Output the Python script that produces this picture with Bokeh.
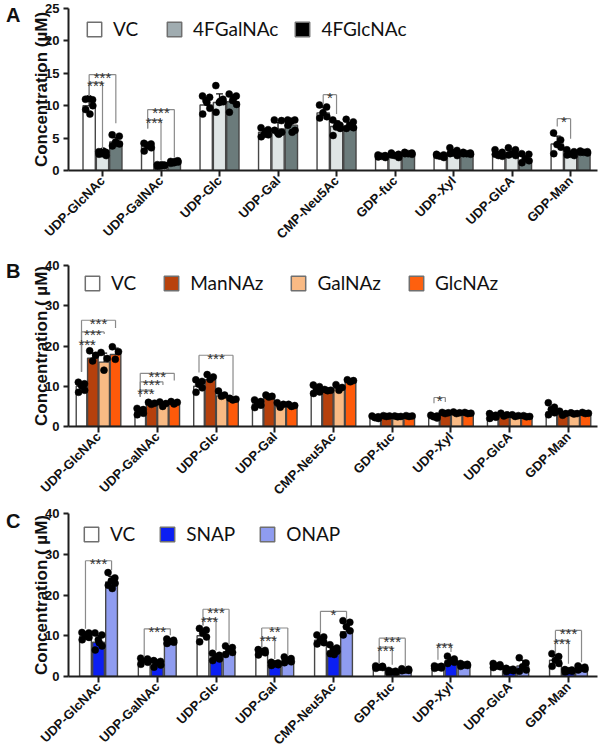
import math
import numpy as np
from bokeh.plotting import figure
from bokeh.models import Range1d, FixedTicker, Legend, LegendItem, LinearAxis
from bokeh.layouts import column
from bokeh.embed import file_html
from bokeh.resources import INLINE
from bokeh.core.properties import value

categories = ["UDP-GlcNAc", "UDP-GalNAc", "UDP-Glc", "UDP-Gal", "CMP-Neu5Ac",
              "GDP-fuc", "UDP-Xyl", "UDP-GlcA", "GDP-Man"]

# ---------------- Panel A ----------------
a_names = ["VC", "4FGalNAc", "4FGlcNAc"]
a_vc_mean = [10.0, 3.8, 10.1, 5.9, 8.9, 2.2, 2.3, 2.5, 4.1]
a_galnac_mean = [2.7, 0.8, 10.5, 6.4, 6.8, 2.4, 2.8, 2.8, 2.6]
a_glcnac_mean = [4.4, 1.3, 10.6, 7.0, 6.8, 2.6, 2.6, 1.6, 2.8]
a_vc_pts = [[11.0, 10.9, 11.1, 10.0, 9.4, 8.7], [4.2, 4.1, 3.9, 3.5, 3.0, 3.8],
            [11.5, 11.3, 10.8, 9.6, 8.7, 10.5], [6.6, 6.3, 5.6, 5.5, 5.2, 6.0],
            [10.1, 9.8, 8.9, 8.3, 8.1], [2.4, 2.3, 2.2, 2.0, 2.1],
            [2.5, 2.4, 2.2, 2.0, 2.3], [3.2, 2.8, 2.3, 2.2, 2.5], [5.8, 4.7, 4.0, 3.6, 2.6]]
a_galnac_pts = [[2.9, 2.8, 2.6, 2.3, 2.5, 3.0], [0.9, 0.8, 0.7, 0.8, 0.6, 0.9],
                [13.1, 11.0, 10.5, 10.6, 9.0, 10.7], [7.8, 7.7, 5.8, 5.9, 6.2, 5.6],
                [7.8, 7.0, 6.7, 6.5, 5.4, 7.2], [2.7, 2.5, 2.3, 2.0, 2.4],
                [3.5, 3.1, 2.7, 2.3, 2.6], [3.5, 3.2, 2.6, 2.3, 2.4], [3.2, 2.9, 2.5, 2.3, 2.4]]
a_glcnac_pts = [[5.5, 5.3, 4.4, 4.1, 3.8, 4.2], [1.4, 1.5, 1.2, 1.3, 1.1, 1.4],
                [11.8, 11.5, 10.8, 10.2, 9.0, 11.2], [7.8, 7.8, 7.6, 6.2, 7.0, 5.9],
                [7.9, 7.5, 7.0, 6.6, 6.5, 6.8], [2.8, 2.7, 2.6, 2.5, 2.6],
                [2.8, 2.7, 2.6, 2.5, 2.6], [2.6, 2.5, 1.8, 1.5, 1.2], [3.0, 2.9, 2.8, 2.7, 2.8]]
a_bar_colors = ["#ffffff", "#dfe5e5", "#6b7b7b"]
a_legend_colors = ["#ffffff", "#a0acb0", "#000000"]
a_yticks = [0, 5, 10, 15, 20, 25]
# (category, series i, series j, bracket level, left leg end, right leg end, label)
a_sig = [(0, 0, 1, 13.6, 11.5, 3.3, "***"), (0, 0, 2, 14.8, 11.5, 7.3, "***"),
         (1, 0, 1, 7.8, 6.5, 1.6, "***"), (1, 0, 2, 9.4, 6.5, 2.0, "***"),
         (4, 0, 1, 11.7, 10.2, 8.7, "*"), (8, 0, 1, 8.0, 6.8, 4.9, "*")]

# ---------------- Panel B ----------------
b_names = ["VC", "ManNAz", "GalNAz", "GlcNAz"]
b_vc_mean = [10.0, 3.7, 10.0, 5.6, 8.8, 2.0, 2.0, 2.2, 3.6]
b_mannaz_mean = [17.0, 5.6, 11.6, 7.2, 9.0, 2.4, 3.0, 2.4, 2.9]
b_galnaz_mean = [16.0, 5.5, 7.6, 5.0, 9.5, 2.3, 3.1, 2.4, 3.0]
b_glcnaz_mean = [17.9, 5.8, 6.6, 5.0, 11.3, 2.4, 3.1, 2.2, 3.0]
b_vc_pts = [[11.0, 10.6, 10.3, 9.0, 8.5, 10.0], [4.5, 4.2, 3.9, 3.3, 2.9],
            [11.6, 11.2, 10.5, 9.6, 8.5], [6.6, 6.2, 5.8, 5.3, 4.7],
            [10.3, 9.9, 9.4, 8.6, 8.2], [2.6, 2.4, 2.2, 2.0],
            [2.8, 2.6, 2.4, 2.1], [3.2, 2.8, 2.6, 2.3, 2.0], [5.9, 4.8, 4.2, 3.4, 2.9]]
b_mannaz_pts = [[18.8, 17.7, 16.3], [6.0, 5.8, 5.5], [12.9, 12.3, 11.7], [7.8, 7.5, 7.3],
                [9.2, 9.0, 8.9], [2.7, 2.6, 2.5], [3.5, 3.4, 3.2], [3.3, 2.9, 2.6], [3.8, 3.2, 2.8]]
b_galnaz_pts = [[18.4, 16.9, 14.0], [6.1, 5.7, 5.0], [8.8, 7.8, 7.5], [5.9, 5.5, 4.8],
                [10.4, 9.7, 9.0], [2.6, 2.5, 2.4], [3.6, 3.4, 3.2], [2.9, 2.7, 2.5], [3.4, 3.2, 3.1]]
b_glcnaz_pts = [[19.8, 18.6, 16.7], [6.2, 6.0, 5.6], [7.0, 6.8, 6.6], [5.5, 5.2, 5.0],
                [11.6, 11.4, 11.1], [2.7, 2.6, 2.5], [3.5, 3.3, 3.2], [2.7, 2.5, 2.4], [3.5, 3.3, 3.2]]
b_bar_colors = ["#ffffff", "#b5400c", "#f9ba84", "#fe5a0a"]
b_legend_colors = ["#ffffff", "#b8420c", "#f9ba84", "#fe600e"]
b_yticks = [0, 10, 20, 30, 40]
b_sig = [(0, 0, 1, 21.0, 13.6, 20.4, "***"), (0, 0, 2, 23.5, 13.6, 23.0, "***"),
         (0, 0, 3, 26.4, 13.6, 24.5, "***"),
         (1, 0, 1, 9.05, 7.4, 8.5, "***"), (1, 0, 2, 11.1, 7.4, 10.3, "***"),
         (1, 0, 3, 13.2, 7.4, 11.4, "***"),
         (2, 0, 3, 17.7, 13.4, 7.65, "***"), (6, 0, 1, 7.2, 5.8, 6.1, "*")]

# ---------------- Panel C ----------------
c_names = ["VC", "SNAP", "ONAP"]
c_vc_mean = [9.8, 3.8, 10.0, 6.0, 8.9, 2.3, 2.3, 2.6, 4.0]
c_snap_mean = [8.4, 2.8, 4.5, 3.0, 6.3, 1.1, 3.9, 1.6, 1.4]
c_onap_mean = [23.2, 8.5, 6.0, 3.8, 11.0, 1.6, 2.8, 2.6, 2.0]
c_vc_pts = [[10.8, 10.7, 10.2, 9.6, 9.0, 9.9], [4.5, 4.3, 4.1, 3.5, 3.0],
            [11.8, 11.4, 10.6, 9.7, 8.5], [6.6, 6.4, 6.1, 5.8, 5.3],
            [10.2, 9.7, 8.9, 8.3, 8.0], [2.6, 2.5, 2.3, 2.2, 2.0],
            [2.6, 2.5, 2.3, 2.1, 2.0], [3.2, 2.9, 2.6, 2.4, 2.2], [5.6, 4.9, 4.0, 3.2, 2.5]]
c_snap_pts = [[10.7, 10.2, 9.0, 7.5, 6.5, 8.3], [3.9, 3.7, 3.4, 2.8, 2.3],
              [5.7, 5.2, 4.8, 4.3, 3.9], [3.5, 3.3, 3.1, 2.9, 2.7],
              [7.8, 7.0, 6.6, 6.2, 5.6, 5.4], [1.5, 1.3, 1.1, 0.9, 0.8],
              [5.0, 4.3, 3.8, 3.5, 3.2], [2.0, 1.8, 1.6, 1.4, 1.2], [1.7, 1.6, 1.4, 1.3, 1.1]]
c_onap_pts = [[25.5, 24.2, 23.5, 22.9, 22.4, 21.6], [9.2, 8.9, 8.6, 8.4, 8.1],
              [7.5, 7.1, 6.5, 5.9, 5.4], [4.8, 4.4, 4.0, 3.6, 3.4],
              [13.7, 13.3, 12.2, 11.2, 10.2], [1.9, 1.8, 1.6, 1.5, 1.4],
              [3.2, 3.0, 2.8, 2.7, 2.5], [4.6, 3.3, 2.4, 1.6, 1.3], [2.6, 2.3, 2.0, 1.8, 1.6]]
c_bar_colors = ["#ffffff", "#0b1ff2", "#8f9cf0"]
c_legend_colors = ["#ffffff", "#0b1ff2", "#8f9cf0"]
c_yticks = [0, 10, 20, 30, 40]
c_sig = [(0, 0, 2, 28.4, 11.7, 26.1, "***"), (1, 0, 2, 11.7, 4.75, 10.1, "***"),
         (2, 0, 1, 14.2, 12.5, 6.4, "***"), (2, 0, 2, 16.5, 12.5, 7.8, "***"),
         (3, 0, 1, 9.5, 7.2, 4.3, "***"), (3, 0, 2, 11.9, 7.2, 5.3, "**"),
         (4, 0, 2, 16.0, 10.7, 14.2, "*"),
         (5, 0, 1, 7.2, 3.1, 2.9, "***"), (5, 0, 2, 9.4, 3.1, 2.3, "***"),
         (6, 0, 1, 7.9, 4.1, 6.0, "***"),
         (8, 0, 1, 8.85, 5.6, 3.1, "***"), (8, 0, 2, 11.3, 5.6, 3.5, "***")]

JITTER = [-0.30, 0.28, -0.02, 0.30, -0.28, 0.06]
AXC = "#1e1e1e"


def make_panel(letter, letter_y, ylabel, ymax, yticks, xr, height, btop, bbot, names,
               means, pts, bar_colors, legend_colors, step, bw, sig, leg_loc, leg_spacing,
               leg_label_width):
    p = figure(width=600, height=height, x_range=Range1d(*xr), y_range=Range1d(0, ymax),
               output_backend="svg", toolbar_location=None, tools="",
               min_border_left=68, min_border_right=3, min_border_top=btop,
               min_border_bottom=bbot)
    p.outline_line_color = None
    p.xgrid.visible = False
    p.ygrid.visible = False
    n = len(names)
    offs = [(k - (n - 1) / 2.0) * step for k in range(n)]
    idx = np.arange(len(categories))

    for k in range(n):
        p.vbar(x=idx + offs[k], top=means[k], bottom=0, width=bw,
               fill_color=bar_colors[k], line_color="#474747", line_width=1.4)
    for k in range(n):
        sd = np.array([np.std(v, ddof=1) for v in pts[k]])
        x = idx + offs[k]
        top = np.array(means[k]) + sd
        p.segment(x0=x, y0=means[k], x1=x, y1=top, line_color="#111111", line_width=1.3)
        p.segment(x0=x - bw * 0.28, y0=top, x1=x + bw * 0.28, y1=top,
                  line_color="#111111", line_width=1.3)
    for k in range(n):
        dx, dy = [], []
        for i, vals in enumerate(pts[k]):
            for j, v in enumerate(vals):
                dx.append(i + offs[k] + JITTER[j % len(JITTER)] * bw)
                dy.append(v)
        p.scatter(dx, dy, size=7, fill_color="#000000", line_color="#000000", line_width=0.5)

    # significance brackets
    hx0, hx1, hy, vx, vy0, vy1, tx, ty, tt = [], [], [], [], [], [], [], [], []
    for (c, i, j, lvl, yl, yr, lab) in sig:
        xa = c + offs[i]
        xb = c + offs[j]
        hx0.append(xa); hx1.append(xb); hy.append(lvl)
        vx += [xa, xb]; vy0 += [lvl, lvl]; vy1 += [yl, yr]
        tx.append((xa + xb) / 2.0); ty.append(lvl); tt.append(lab)
    p.segment(x0=hx0, y0=hy, x1=hx1, y1=hy, line_color="#8a8a8a", line_width=1.2)
    p.segment(x0=vx, y0=vy0, x1=vx, y1=vy1, line_color="#8a8a8a", line_width=1.2)
    p.text(x=tx, y=ty, text=tt, text_font=value("Liberation Sans"), text_font_size="15px",
           text_color="#333333", text_align="center", text_baseline="alphabetic", y_offset=3)

    # legend swatches use their own colours (hidden proxies of the same data)
    items = []
    for k in range(n):
        r = p.vbar(x=idx + offs[k], top=means[k], bottom=0, width=bw,
                   fill_color=legend_colors[k], line_color="#6f6f6f", line_width=1.5,
                   visible=False)
        items.append(LegendItem(label=names[k], renderers=[r]))
    leg = Legend(items=items, orientation="horizontal", location=leg_loc,
                 glyph_width=18, glyph_height=18, label_height=18, label_standoff=10,
                 label_width=leg_label_width, spacing=leg_spacing, padding=0, margin=0,
                 label_text_font="Lato", label_text_font_size="19px", label_text_color="#111111",
                 background_fill_alpha=0, border_line_alpha=0)
    p.add_layout(leg)

    # axes
    xa = p.xaxis[0]
    xa.ticker = FixedTicker(ticks=list(range(len(categories))))
    xa.major_label_overrides = {i: c for i, c in enumerate(categories)}
    xa.major_label_orientation = math.pi / 4
    xa.major_label_standoff = 2
    xa.major_tick_out = 6
    ya = p.yaxis[0]
    ya.ticker = FixedTicker(ticks=yticks)
    ya.major_tick_out = 5
    ya.major_label_standoff = 4
    ya.axis_label = ylabel
    ya.axis_label_standoff = -9
    ya.axis_label_text_font = "Liberation Sans"
    ya.axis_label_text_font_style = "bold"
    ya.axis_label_text_font_size = "17px"
    ya.axis_label_text_color = "#111111"
    for ax in (xa, ya):
        ax.axis_line_width = 2
        ax.axis_line_color = AXC
        ax.major_tick_line_width = 2
        ax.major_tick_line_color = AXC
        ax.major_tick_in = 0
        ax.minor_tick_in = 0
        ax.minor_tick_out = 0
        ax.major_label_text_font = "Liberation Sans"
        ax.major_label_text_font_style = "bold"
        ax.major_label_text_font_size = "13px"
        ax.major_label_text_color = "#111111"

    # panel letter, drawn as the label of an outer, line-less left axis
    la = LinearAxis(ticker=FixedTicker(ticks=[letter_y]),
                    major_label_overrides={letter_y: letter},
                    axis_line_color=None, major_tick_line_color=None,
                    minor_tick_line_color=None, major_tick_in=0, major_tick_out=0,
                    minor_tick_in=0, minor_tick_out=0, major_label_standoff=9,
                    major_label_text_font="Liberation Sans",
                    major_label_text_font_style="bold", major_label_text_font_size="20px",
                    major_label_text_color="#111111")
    p.add_layout(la, "left")
    return p


pA = make_panel("A", 23.92, "Concentration (µM)", 25, a_yticks,
                (-0.581, 8.46), 257, 8, 87,
                a_names, [a_vc_mean, a_galnac_mean, a_glcnac_mean],
                [a_vc_pts, a_galnac_pts, a_glcnac_pts], a_bar_colors, a_legend_colors,
                0.228, 0.21, a_sig, (17, 130), 15, 37)
pB = make_panel("B", 38.53, "Concentration ( µM)", 40, b_yticks,
                (-0.511, 8.494), 248, 8, 77,
                b_names, [b_vc_mean, b_mannaz_mean, b_galnaz_mean, b_glcnaz_mean],
                [b_vc_pts, b_mannaz_pts, b_galnaz_pts, b_glcnaz_pts], b_bar_colors,
                b_legend_colors, 0.193, 0.18, b_sig, (15, 132), 26, 20)
pC = make_panel("C", 38.04, "Concentration ( µM)", 40, c_yticks,
                (-0.511, 8.494), 250, 8, 79,
                c_names, [c_vc_mean, c_snap_mean, c_onap_mean],
                [c_vc_pts, c_snap_pts, c_onap_pts], c_bar_colors, c_legend_colors,
                0.222, 0.20, c_sig, (14, 131), 23, 20)

layout = column(pA, pB, pC)
open("out.html", "w").write(file_html(layout, INLINE))
